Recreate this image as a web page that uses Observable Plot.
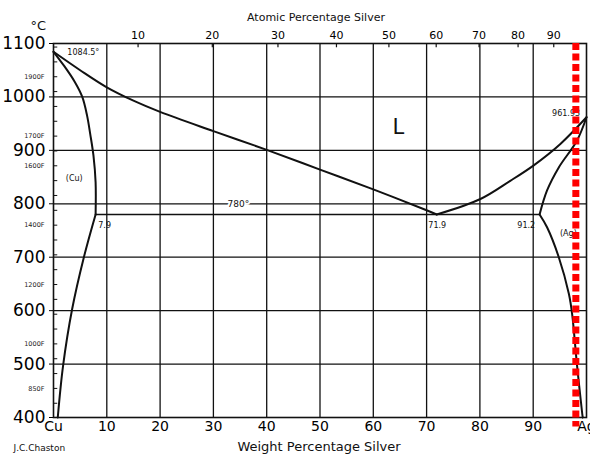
<!DOCTYPE html>
<html>
<head>
<meta charset="utf-8">
<script src="https://cdn.jsdelivr.net/npm/d3@7"></script>
<script src="https://cdn.jsdelivr.net/npm/@observablehq/plot@0.6"></script>
<style>
  html, body { margin: 0; padding: 0; background: #fff; }
  #chart { width: 590px; height: 457px; }
</style>
</head>
<body>
<div id="chart"></div>
<script>
// ---- Data ----
// Liquidus, copper side (wt% Ag, °C)
const liqCuWt = [0, 5, 10, 15, 20, 30, 40, 50, 60, 70, 71.9];
const liqCuT  = [1084.5, 1050, 1018, 993, 972, 936, 901, 864, 827, 788, 780];
// Liquidus, silver side
const liqAgWt = [71.9, 80.1, 85.7, 90.1, 95.1, 100];
const liqAgT  = [780, 809, 843, 872, 912, 961.9];
// Solidus, copper side
const solCuWt = [0, 2, 4, 5.4, 6.3, 6.9, 7.5, 7.9, 7.9];
const solCuT  = [1084.5, 1058, 1028, 1000, 965, 930, 890, 840, 780];
// Solvus, copper side
const svCuWt = [7.9, 5.7, 3.5, 1.8, 0.8];
const svCuT  = [780, 700, 603, 497, 400];
// Solidus, silver side
const solAgWt = [100, 98.2, 94.8, 92.6, 91.2];
const solAgT  = [961.9, 918, 868, 825, 780];
// Solvus, silver side
const svAgWt = [91.2, 92.6, 94.8, 96.7, 97.3, 98.2, 99.2, 99.3];
const svAgT  = [780, 756, 700, 631, 594, 500, 407, 400];
// Eutectic
const eutecticT = 780;
const eutecticFrom = 7.9;
const eutecticTo = 91.2;
// Marked composition (red dashed line)
const markedWt = 98;

// Tick labels
const celsiusTicks = [400, 500, 600, 700, 800, 900, 1000, 1100];
const weightTicks = [0, 10, 20, 30, 40, 50, 60, 70, 80, 90, 100];
const atomicTicks = [10, 20, 30, 40, 50, 60, 70, 80, 90];
const fahrenheitLabels = [1900, 1700, 1600, 1400, 1200, 1000, 850];
const fahrenheitMinor = d3.range(800, 2001, 50);

// Annotations (left-aligned, centred, right-aligned)
const annStartText = ["1084.5°", "7.9"];
const annStartWt   = [2.6, 8.4];
const annStartT    = [1083, 760];
const annMidText = ["71.9", "91.2", "(Ag)", "(Cu)"];
const annMidWt   = [72, 88.7, 96.6, 3.9];
const annMidT    = [760, 760, 744, 847];
const annEndText = ["961.93"];
const annEndWt   = [98.8];
const annEndT    = [969];

// ---- Derived helpers (unit conversions) ----
const AG = 107.87, CU = 63.546;
const atomicToWeight = a => 100 * a * AG / (a * AG + (100 - a) * CU);
const fToC = f => (f - 32) * 5 / 9;
const pts = (xs, ys) => xs.map((x, i) => ({x, y: ys[i]}));
const labels = (ts, xs, ys) => ts.map((t, i) => ({t, x: xs[i], y: ys[i]}));

const font = "DejaVu Sans, sans-serif";
const ink = "#111";
const curveOpts = {x: "x", y: "y", curve: "catmull-rom", stroke: ink, strokeWidth: 2};

const chart = Plot.plot({
  width: 590,
  height: 457,
  marginLeft: 53,
  marginRight: 4,
  marginTop: 43,
  marginBottom: 40,
  style: {fontFamily: font, background: "white", color: "black"},
  x: {domain: [0, 100]},
  y: {domain: [400, 1100]},
  marks: [
    // grid
    Plot.ruleX([10, 20, 30, 40, 50, 60, 70, 80, 90], {stroke: ink, strokeWidth: 1.3}),
    Plot.ruleY([500, 600, 700, 800, 900, 1000], {stroke: ink, strokeWidth: 1.3}),
    // Fahrenheit minor ticks (inside left)
    Plot.ruleY(fahrenheitMinor.map(fToC).filter(c => c > 400 && c < 1100), {x1: 0, x2: 0.8, stroke: ink, strokeWidth: 1}),
    // Atomic ticks (inside top)
    Plot.ruleX(atomicTicks.map(atomicToWeight), {y1: 1100, y2: 1092, stroke: ink, strokeWidth: 1.2}),
    // eutectic line
    Plot.ruleY([eutecticT], {x1: eutecticFrom, x2: eutecticTo, stroke: ink, strokeWidth: 1.6}),
    // phase boundaries
    Plot.line(pts(liqCuWt, liqCuT), curveOpts),
    Plot.line(pts(liqAgWt, liqAgT), curveOpts),
    Plot.line(pts(solCuWt, solCuT), curveOpts),
    Plot.line(pts(svCuWt, svCuT), curveOpts),
    Plot.line(pts(solAgWt, solAgT), curveOpts),
    Plot.line(pts(svAgWt, svAgT), curveOpts),
    // frame
    Plot.frame({stroke: ink, strokeWidth: 1.6}),
    // annotations
    Plot.text(labels(annStartText, annStartWt, annStartT), {x: "x", y: "y", text: "t", textAnchor: "start", fontSize: 8, fill: ink}),
    Plot.text(labels(annMidText, annMidWt, annMidT), {x: "x", y: "y", text: "t", textAnchor: "middle", fontSize: 8, fill: ink}),
    Plot.text(labels(annEndText, annEndWt, annEndT), {x: "x", y: "y", text: "t", textAnchor: "end", fontSize: 8, fill: ink}),
    Plot.text(["780°"], {x: 34.7, y: 799, text: d => d, fontSize: 9, fill: ink, stroke: "white", strokeWidth: 4}),
    Plot.text(["L"], {x: 64.7, y: 943, text: d => d, fontSize: 21, fill: ink}),
    // red dashed marker
    Plot.ruleX([markedWt], {y1: 1100, y2: 382, stroke: "#ff0000", strokeWidth: 7, strokeDasharray: "7,3.5"}),
    // axes
    Plot.axisY({ticks: celsiusTicks, tickSize: 4, tickPadding: 4, fontSize: 17, label: null, tickFormat: d => String(d)}),
    Plot.axisX({anchor: "bottom", ticks: weightTicks, tickSize: 0, tickPadding: 4, fontSize: 14, label: null,
      tickFormat: d => d === 0 ? "Cu" : d === 100 ? "Ag" : String(d)}),
    Plot.axisX({anchor: "top", ticks: atomicTicks.map(atomicToWeight), tickSize: 0, tickPadding: 5, fontSize: 11, label: null,
      tickFormat: (d, i) => String(atomicTicks[i])}),
    // Fahrenheit labels
    Plot.text(fahrenheitLabels, {x: 0, y: d => fToC(d), text: d => d + "F", dx: -9, textAnchor: "end", fontSize: 6.5, fill: "#222"}),
    // titles
    Plot.text(["Atomic Percentage Silver"], {frameAnchor: "top", dx: -4, dy: -30, text: d => d, fontSize: 11, fill: ink}),
    Plot.text(["Weight Percentage Silver"], {frameAnchor: "bottom", dx: -1, dy: 33, text: d => d, fontSize: 13, fill: ink}),
    Plot.text(["J.C.Chaston"], {frameAnchor: "bottom-left", dx: -40, dy: 33, textAnchor: "start", text: d => d, fontSize: 9, fill: ink}),
    Plot.text(["°C"], {frameAnchor: "top-left", dx: -23, dy: -23, text: d => d, fontSize: 13, fill: ink})
  ]
});
document.getElementById("chart").appendChild(chart);
</script>
</body>
</html>
